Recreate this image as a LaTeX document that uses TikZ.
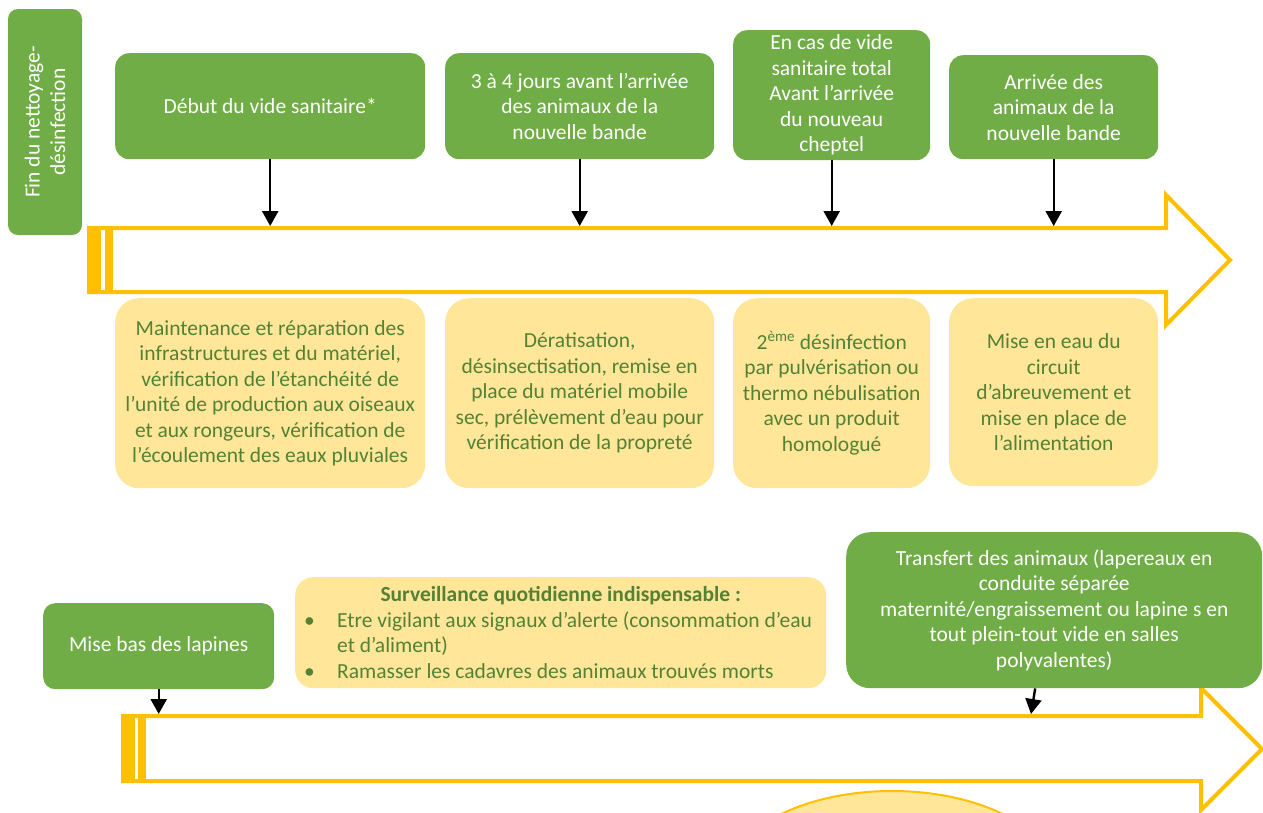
\documentclass[tikz,border=0pt]{standalone}
\usepackage{fontspec}
\setmainfont{Carlito}
\usetikzlibrary{arrows.meta}
\definecolor{vert}{HTML}{70AD47}
\definecolor{jaune}{HTML}{FFC000}
\definecolor{jauneclair}{HTML}{FFE699}
\definecolor{vertfonce}{HTML}{548235}

\begin{document}
\begin{tikzpicture}[x=1pt, y=-1pt,
  every node/.style = {font=\fontsize{21.5}{25.5}\selectfont, align=center, inner sep=0pt},
  etape/.style = {fill=vert, text=white, rounded corners=14pt},
  action/.style = {fill=jauneclair, text=vertfonce, rounded corners=24pt},
  fleche/.style = {draw=jaune, line width=4pt, line join=miter},
  lien/.style = {-{Triangle[length=15pt, width=16pt]}, line width=2.4pt, black}]
\useasboundingbox (0,0) rectangle (1263,812);

% grandes fleches
\draw[fleche] (89,228) -- (1166,228) -- (1166,195) -- (1230,260) -- (1166,325) -- (1166,292) -- (89,292) -- cycle;
\fill[jaune] (88,226) rectangle (101,294);
\fill[jaune] (105,226) rectangle (113,294);
\draw[fleche] (123,716) -- (1201,716) -- (1201,688) -- (1262,749) -- (1201,810) -- (1201,781) -- (123,781) -- cycle;
\fill[jaune] (123,714) rectangle (135,783);
\fill[jaune] (138,714) rectangle (146,783);
\begin{scope}
  \clip (0,0) rectangle (1263,812);
  \draw[fill=jauneclair, draw=jaune, line width=2pt] (892,880) ellipse [x radius=165pt, y radius=89pt];
\end{scope}
\coordinate (haut) at (0,226);
\coordinate (bas) at (0,714);
\coordinate (arrivee) at (1031,714);

% etapes
\node[etape, rotate=90, minimum width=226, minimum height=74, rounded corners=10pt] (fin) at (45,122) {Fin du nettoyage-\\désinfection};
\node[etape, anchor=north west, minimum width=310, minimum height=106] (debut) at (115,53) {Début du vide sanitaire*};
\node[etape, anchor=north west, minimum width=269, minimum height=106] (avant) at (445,53) {3 à 4 jours avant l’arrivée\\des animaux de la\\nouvelle bande};
\node[etape, anchor=north west, minimum width=197, minimum height=130] (total) at (733,30) {En cas de vide\\sanitaire total\\Avant l’arrivée\\du nouveau\\cheptel};
\node[etape, anchor=north west, minimum width=209, minimum height=104] (arrivee b) at (949,55) {Arrivée des\\animaux de la\\nouvelle bande};

% actions
\node[action, anchor=north west, minimum width=310, minimum height=190] (maint) at (115,298) {Maintenance et réparation des\\infrastructures et du matériel,\\vérification de l’étanchéité de\\l’unité de production aux oiseaux\\et aux rongeurs, vérification de\\l’écoulement des eaux pluviales};
\node[action, anchor=north west, minimum width=269, minimum height=190] (derat) at (445,298) {Dératisation,\\désinsectisation, remise en\\place du matériel mobile\\sec, prélèvement d’eau pour\\vérification de la propreté};
\node[action, anchor=north west, minimum width=197, minimum height=190] (desinf) at (733,298) {2\textsuperscript{ème} désinfection\\par pulvérisation ou\\thermo nébulisation\\avec un produit\\homologué};
\node[action, anchor=north west, minimum width=209, minimum height=188] (eau) at (949,298) {Mise en eau du\\circuit\\d’abreuvement et\\mise en place de\\l’alimentation};

% seconde ligne
\node[etape, anchor=north west, minimum width=231, minimum height=86, rounded corners=12pt] (misebas) at (43,603) {Mise bas des lapines};
\node[action, anchor=north west, minimum width=531, minimum height=111, rounded corners=18pt] (surv) at (295,577) {\textbf{Surveillance quotidienne indispensable :}\\
\makebox[515pt][l]{\makebox[34pt][l]{\hspace{1pt}•}Etre vigilant aux signaux d’alerte (consommation d’eau}\\
\makebox[515pt][l]{\hspace*{34pt}et d’aliment)}\\
\makebox[515pt][l]{\makebox[34pt][l]{\hspace{1pt}•}Ramasser les cadavres des animaux trouvés morts}};
\node[etape, anchor=north west, minimum width=416, minimum height=156, rounded corners=24pt] (transfert) at (846,532) {Transfert des animaux (lapereaux en\\conduite séparée\\maternité/engraissement ou lapine s en\\tout plein-tout vide en salles\\polyvalentes)};

% liens
\draw[lien] (debut.south) -- (debut.south |- haut);
\draw[lien] (avant.south) -- (avant.south |- haut);
\draw[lien] (total.south) -- (total.south |- haut);
\draw[lien] (arrivee b.south) -- (arrivee b.south |- haut);
\draw[lien] (misebas.south) -- (misebas.south |- bas);
\draw[lien] ([xshift=-19pt]transfert.south) -- (arrivee);
\end{tikzpicture}
\end{document}
